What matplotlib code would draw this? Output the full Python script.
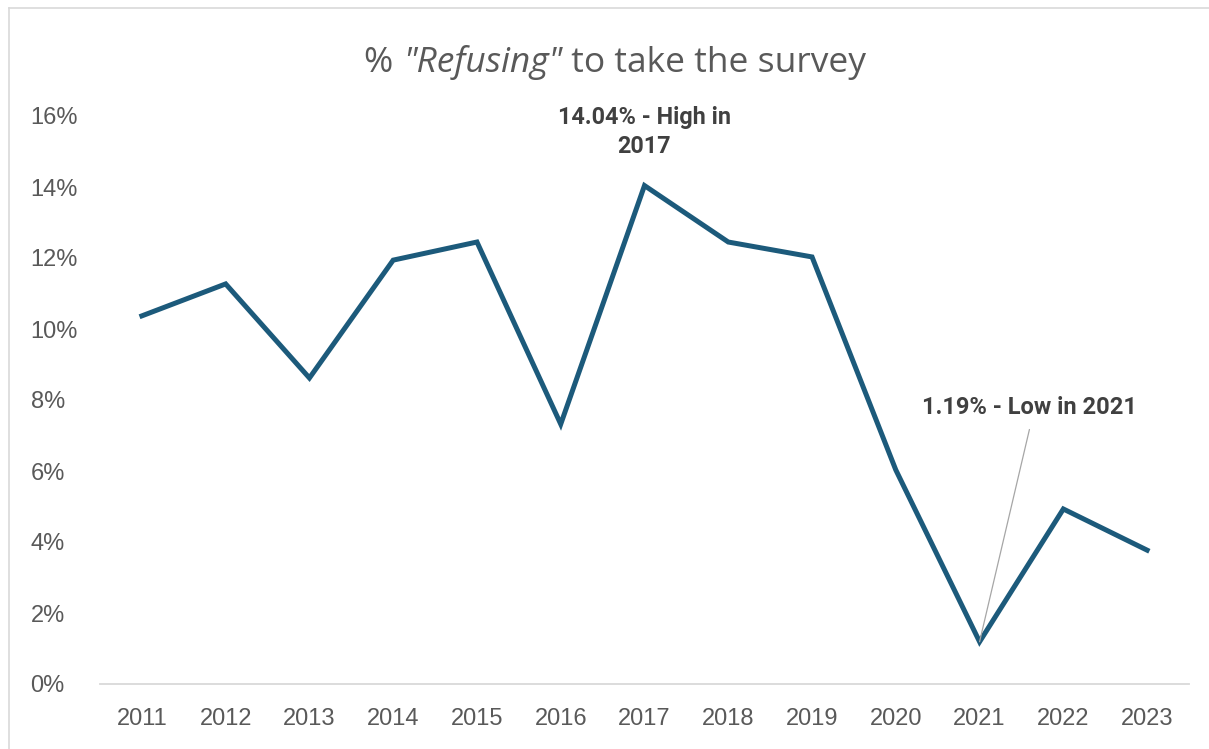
import matplotlib
matplotlib.use("Agg")
import matplotlib.pyplot as plt
from matplotlib.lines import Line2D

# data
years = ['2011', '2012', '2013', '2014', '2015', '2016', '2017',
         '2018', '2019', '2020', '2021', '2022', '2023']
refusing = [10.37, 11.27, 8.62, 11.94, 12.45, 7.32, 14.04,
            12.45, 12.03, 6.03, 1.19, 4.93, 3.77]
y_ticks = [0, 2, 4, 6, 8, 10, 12, 14, 16]

W, H = 1209, 749
fig = plt.figure(figsize=(W / 100, H / 100), dpi=100)
ax = fig.add_axes([100 / W, 1 - 684 / H, (1189 - 100) / W, (684 - 116) / H])

x = list(range(len(years)))
ax.plot(x, refusing, color='#1c5a7b', lw=3.6, solid_joinstyle='miter')

ax.set_xlim(-0.5, len(years) - 0.5)
ax.set_ylim(0, 16)
ax.set_xticks(x)
ax.set_xticklabels(years)
ax.set_yticks(y_ticks)
ax.set_yticklabels([str(t) + '%' for t in y_ticks])
for s in ['top', 'right', 'left']:
    ax.spines[s].set_visible(False)
ax.spines['bottom'].set_color('#d9d9d9')
ax.spines['bottom'].set_linewidth(1.3)
ax.tick_params(length=0, labelsize=17, labelcolor='#595959')
ax.tick_params(axis='x', pad=17)
ax.tick_params(axis='y', pad=50)
for lab in ax.get_xticklabels() + ax.get_yticklabels():
    lab.set_family('Liberation Sans')
for lab in ax.get_yticklabels():
    lab.set_horizontalalignment('left')

# annotations
i_hi = refusing.index(max(refusing))
ax.annotate('14.04% - High in\n2017', xy=(x[i_hi], refusing[i_hi]),
            xytext=(x[i_hi], 15.55), ha='center', va='center',
            fontsize=16.8, fontweight='bold', color='#404040',
            family='Roboto', linespacing=1.3)
i_lo = refusing.index(min(refusing))
ax.annotate('1.19% - Low in 2021', xy=(x[i_lo], refusing[i_lo]),
            xytext=(x[i_lo] + 0.6, 7.8), ha='center', va='center',
            fontsize=17, fontweight='bold', color='#404040', family='Roboto',
            arrowprops=dict(arrowstyle='-', color='#a6a6a6', lw=0.9,
                            relpos=(0.51, 0), shrinkA=6, shrinkB=0))

# title with italic part
parts = [('% ', 'normal'), ('"Refusing"', 'italic'), (' to take the survey', 'normal')]
texts = []
for s, st in parts:
    t = fig.text(0, 1 - 72 / H, s, fontsize=25.5, color='#595959',
                 family='Open Sans', style=st, va='baseline')
    texts.append(t)
fig.canvas.draw()
r = fig.canvas.get_renderer()
widths = [t.get_window_extent(r).width for t in texts]
total = sum(widths)
xpos = 615 - total / 2
for t, w in zip(texts, widths):
    t.set_position((xpos / W, 1 - 72 / H))
    xpos += w

# chart border
fig.add_artist(Line2D([9 / W, 9 / W], [0, 1 - 8 / H], color='#d9d9d9', lw=1.2))
fig.add_artist(Line2D([9 / W, 1], [1 - 8 / H, 1 - 8 / H], color='#d9d9d9', lw=1.2))

fig.savefig('out.png', dpi=100)
